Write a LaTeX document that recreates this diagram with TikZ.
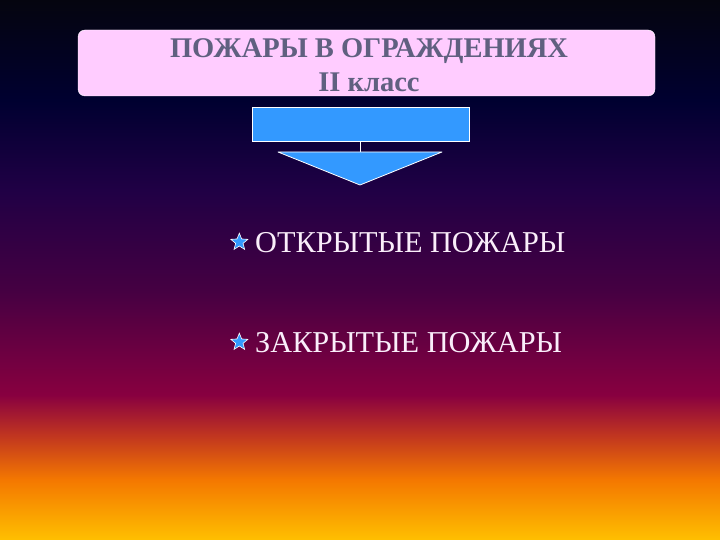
\documentclass[tikz,border=0pt]{standalone}
\usepackage{fontspec}
\setmainfont{Liberation Serif}
\usetikzlibrary{positioning,shapes.geometric}

\definecolor{skyA}{HTML}{05050F}
\definecolor{skyB}{HTML}{000030}
\definecolor{skyC}{HTML}{200045}
\definecolor{skyD}{HTML}{450042}
\definecolor{skyE}{HTML}{880040}
\definecolor{skyF}{HTML}{C03520}
\definecolor{skyG}{HTML}{F47800}
\definecolor{skyH}{HTML}{FFC000}
\definecolor{titlefill}{HTML}{FFCCFF}
\definecolor{titletext}{HTML}{606080}
\definecolor{blockblue}{HTML}{3399FF}
\definecolor{itemtext}{HTML}{FAEEFA}

\begin{document}
\begin{tikzpicture}[
  x=1pt, y=-1pt,
  titlebox/.style={fill=titlefill, draw=white, rounded corners=7pt, minimum width=577pt,
    minimum height=66pt, inner sep=0pt},
  titlefont/.style={font=\fontsize{28.5}{34}\selectfont\bfseries, text=titletext, align=center},
  blockbox/.style={fill=blockblue, draw=white, line width=1pt, minimum width=217pt,
    minimum height=34pt, inner sep=0pt},
  bullet/.style={star, star points=5, star point ratio=2.3, fill=blockblue, draw=white,
    line width=0.6pt, minimum size=18pt, inner sep=0pt},
  item/.style={font=\fontsize{30.3}{34}\selectfont, text=itemtext, anchor=base west, inner sep=0pt}
]

% background
\useasboundingbox (0,0) rectangle (720,540);
\shade[top color=skyA, bottom color=skyB] (0,0) rectangle (720,100);
\shade[top color=skyB, bottom color=skyC] (0,100) rectangle (720,190);
\shade[top color=skyC, bottom color=skyD] (0,190) rectangle (720,290);
\shade[top color=skyD, bottom color=skyE] (0,290) rectangle (720,395);
\shade[top color=skyE, bottom color=skyF] (0,395) rectangle (720,435);
\shade[top color=skyF, bottom color=skyG] (0,435) rectangle (720,480);
\shade[top color=skyG, bottom color=skyH] (0,480) rectangle (720,540.5);

% title
\node[titlebox] (title) at (366.5,63) {};
\node[titlefont] (titletxt) at (369,65) {ПОЖАРЫ В ОГРАЖДЕНИЯХ\\II класс};

% block and arrow
\node[blockbox] (block) at (360.5,125) {};
\coordinate (tip) at (360,185);
\coordinate (tl) at (278,152);
\coordinate (tr) at (442,152);
\draw[white, line width=1pt] (block.south) -- (block.south |- tl);
\filldraw[fill=blockblue, draw=white, line width=0.8pt, line join=round] (tl) -- (tr) -- (tip) -- cycle;

% items
\node[item] (open) at (255,252) {ОТКРЫТЫЕ ПОЖАРЫ};
\node[bullet, left=10pt of open.west] (s1) {};
\node[item] (closed) at (255,352) {ЗАКРЫТЫЕ ПОЖАРЫ};
\node[bullet, left=10pt of closed.west] (s2) {};

\end{tikzpicture}
\end{document}
